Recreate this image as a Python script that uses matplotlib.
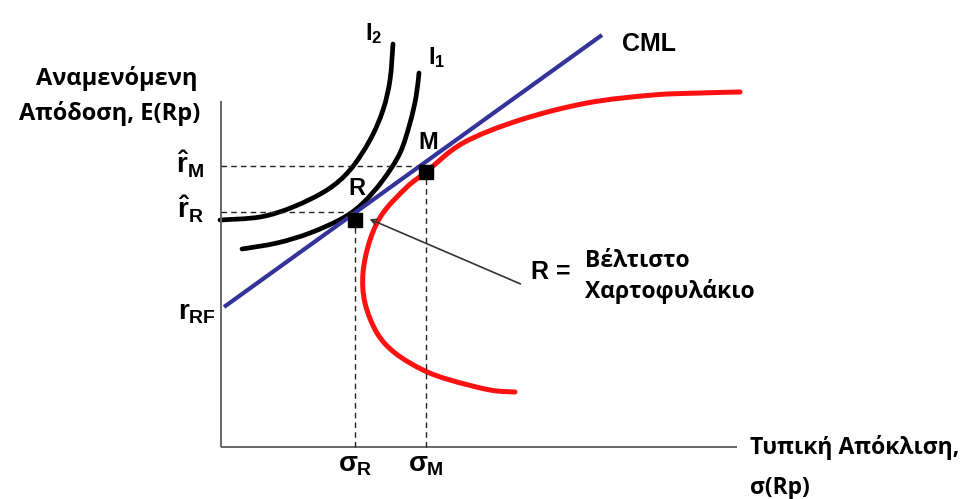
import matplotlib
matplotlib.use("Agg")
import matplotlib.pyplot as plt
from matplotlib.path import Path
from matplotlib.patches import PathPatch

plt.rcParams['mathtext.fontset'] = 'custom'
plt.rcParams['mathtext.rm'] = 'Liberation Sans:bold'
plt.rcParams['mathtext.it'] = 'Liberation Sans:bold'
plt.rcParams['mathtext.bf'] = 'Liberation Sans:bold'
plt.rcParams['mathtext.sf'] = 'Liberation Sans:bold'

GREEK = ['Open Sans', 'DejaVu Sans']

# risk (sigma) / expected return, in chart units (origin at the axes corner)
cml_sigma = [3, 381]
cml_ret = [140, 412]

frontier_sigma = [294, 269, 229, 202, 174, 156, 144, 142, 149, 162, 186, 205, 242, 299, 366, 432, 479, 519]
frontier_ret = [55, 57, 67, 77, 94, 114, 144, 174, 207, 234, 260, 275, 304, 327, 344, 352, 354, 355]

i1_sigma = [21, 56, 89, 122, 142, 162, 179, 189, 195, 198]
i1_ret = [198, 204, 214, 229, 244, 267, 294, 324, 350, 374]

i2_sigma = [-1, 39, 72, 106, 129, 149, 162, 169, 172]
i2_ret = [227, 230, 240, 257, 277, 307, 337, 367, 403]

port_names = ['R', 'M']
port_sigma = [134, 205]
port_ret = [227, 275]
port_lines = [235, 281]   # expected return levels r_R, r_M

r_rf = 140


def smooth(xs, ys):
    # Catmull-Rom through the read points, drawn as cubic Bezier segments
    pts = list(zip(xs, ys))
    verts = [pts[0]]
    codes = [Path.MOVETO]
    for i in range(len(pts) - 1):
        p0 = pts[max(i - 1, 0)]
        p1 = pts[i]
        p2 = pts[i + 1]
        p3 = pts[min(i + 2, len(pts) - 1)]
        c1 = (p1[0] + (p2[0] - p0[0]) / 6, p1[1] + (p2[1] - p0[1]) / 6)
        c2 = (p2[0] - (p3[0] - p1[0]) / 6, p2[1] - (p3[1] - p1[1]) / 6)
        verts += [c1, c2, p2]
        codes += [Path.CURVE4] * 3
    return Path(verts, codes)


fig = plt.figure(figsize=(9.67, 4.99), dpi=100)
ax = fig.add_axes([0, 0, 1, 1])
ax.set_xlim(-221, 746)
ax.set_ylim(-52, 447)
ax.axis('off')

# axes
ax.plot([0, 0], [0, 346], color='#666666', lw=1.4, solid_capstyle='butt')
ax.plot([0, 516], [0, 0], color='#666666', lw=1.4, solid_capstyle='butt')

# dashed guides
for s, lvl in zip(port_sigma, port_lines):
    ax.plot([0, s], [lvl, lvl], color='#222222', lw=1.0, ls=(0, (4, 3)))
    ax.plot([s, s], [0, lvl], color='#222222', lw=1.0, ls=(0, (4, 3)))

ax.add_patch(PathPatch(smooth(frontier_sigma, frontier_ret), fill=False, edgecolor='#ff1111',
                       lw=3.6, capstyle='round', joinstyle='round'))
ax.add_patch(PathPatch(smooth(i2_sigma, i2_ret), fill=False, edgecolor='black',
                       lw=3.4, capstyle='round', joinstyle='round'))
ax.add_patch(PathPatch(smooth(i1_sigma, i1_ret), fill=False, edgecolor='black',
                       lw=3.4, capstyle='round', joinstyle='round'))
ax.plot(cml_sigma, cml_ret, color='#333399', lw=3.0, solid_capstyle='butt')

ax.plot(port_sigma, port_ret, 's', color='black', ms=10)

ax.annotate('', xy=(port_sigma[0] + 12, port_ret[0] + 2), xytext=(302, 162),
            arrowprops=dict(arrowstyle='->', color='#333333', lw=1.2))

# labels
ax.text(401, 403, 'CML', fontsize=18, fontweight='bold', family='Liberation Sans', ha='left', va='center')
ax.text(144, 413, '$I_2$', fontsize=17, ha='left', va='center')
ax.text(207, 389, '$I_1$', fontsize=17, ha='left', va='center')
ax.text(port_sigma[1] + 2, port_ret[1] + 30, port_names[1], fontsize=17, fontweight='bold',
        family='Liberation Sans', ha='center', va='center')
ax.text(port_sigma[0] + 2, port_ret[0] + 32, port_names[0], fontsize=17, fontweight='bold',
        family='Liberation Sans', ha='center', va='center')

ax.text(-31, 283, r'$\hat{r}_M$', fontsize=20, ha='center', va='center')
ax.text(-31, 238, r'$\hat{r}_R$', fontsize=20, ha='center', va='center')
ax.text(-24, r_rf - 5, '$r_{RF}$', fontsize=20, ha='center', va='center')

ax.text(port_sigma[0], -17, r'$\sigma_R$', fontsize=20, ha='center', va='center')
ax.text(port_sigma[1], -17, r'$\sigma_M$', fontsize=20, ha='center', va='center')

ax.text(330, 175, 'R =', fontsize=18, fontweight='bold', family='Liberation Sans', ha='center', va='center')
ax.text(364, 186, 'Βέλτιστο', fontsize=16.5, fontweight='bold', family=GREEK, ha='left', va='center')
ax.text(364, 155, 'Χαρτοφυλάκιο', fontsize=16.5, fontweight='bold', family=GREEK, ha='left', va='center')

ax.text(-24, 369, 'Αναμενόμενη', fontsize=17, fontweight='bold', family=GREEK, ha='right', va='center')
ax.text(-21, 334, 'Απόδοση, E(Rp)', fontsize=17, fontweight='bold', family=GREEK, ha='right', va='center')

ax.text(529, 0, 'Τυπική Απόκλιση,', fontsize=16.5, fontweight='bold', family=GREEK, ha='left', va='center')
ax.text(529, -41, 'σ(Rp)', fontsize=16.5, fontweight='bold', family=GREEK, ha='left', va='center')

fig.savefig('out.png', dpi=100)
